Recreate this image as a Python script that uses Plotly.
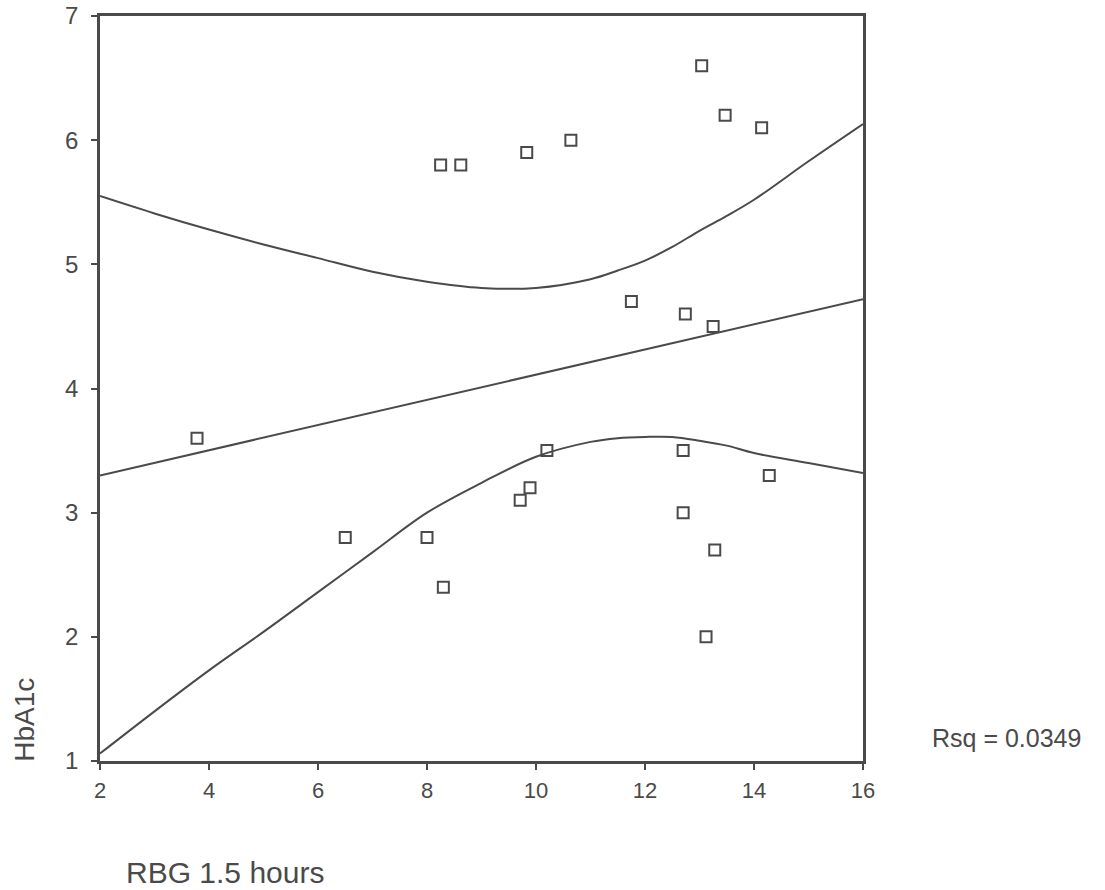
import plotly.graph_objects as go

# Scatter data (RBG 1.5 hours vs HbA1c)
rbg = [3.78, 6.5, 8.0, 8.3, 8.25, 8.62, 9.83, 10.64, 9.71, 9.89, 10.2,
       11.75, 12.74, 13.25, 12.70, 14.28, 12.70, 13.28, 13.12, 13.04, 13.47, 14.14]
hba1c = [3.6, 2.8, 2.8, 2.4, 5.8, 5.8, 5.9, 6.0, 3.1, 3.2, 3.5,
         4.7, 4.6, 4.5, 3.5, 3.3, 3.0, 2.7, 2.0, 6.6, 6.2, 6.1]

# Fit line
fit_x = [2, 16]
fit_y = [3.30, 4.72]

# Interval curves
band_x = [2, 3, 4, 5, 6, 7, 8, 9, 10, 11, 11.5, 12, 12.5, 13, 13.5, 14, 15, 16]
lower_y = [1.06, 1.40, 1.73, 2.04, 2.36, 2.68, 3.00, 3.24, 3.45, 3.57, 3.60, 3.61, 3.61, 3.58, 3.54, 3.48, 3.40, 3.32]
upper_y = [5.55, 5.41, 5.28, 5.16, 5.05, 4.94, 4.86, 4.81, 4.81, 4.88, 4.95, 5.03, 5.14, 5.27, 5.39, 5.52, 5.83, 6.13]

x_ticks = [2, 4, 6, 8, 10, 12, 14, 16]
y_ticks = [1, 2, 3, 4, 5, 6, 7]

ink = "#4a4a4a"
font = "Liberation Sans, Arial, sans-serif"

fig = go.Figure()
for yy in (upper_y, lower_y):
    fig.add_trace(go.Scatter(x=band_x, y=yy, mode="lines", line=dict(color=ink, width=2),
                             line_shape="spline", hoverinfo="skip"))
fig.add_trace(go.Scatter(x=fit_x, y=fit_y, mode="lines", line=dict(color=ink, width=2)))
fig.add_trace(go.Scatter(x=rbg, y=hba1c, mode="markers",
                         marker=dict(symbol="square-open", size=11, color=ink,
                                     line=dict(width=2, color=ink))))

axis_common = dict(showline=True, linecolor=ink, linewidth=2.5, mirror=True,
                   showgrid=False, zeroline=False, ticks="outside", ticklen=6,
                   tickwidth=2, tickcolor=ink, fixedrange=True, automargin=False)
fig.update_xaxes(range=[2, 16], tickvals=x_ticks, ticktext=[str(v) for v in x_ticks],
                 tickfont=dict(family=font, size=22, color=ink), ticklabelstandoff=2,
                 **axis_common)
fig.update_yaxes(range=[1, 7], tickvals=y_ticks, ticktext=[str(v) for v in y_ticks],
                 tickfont=dict(family=font, size=24, color=ink), ticklabelstandoff=8,
                 **axis_common)

fig.update_layout(
    width=1105, height=890,
    margin=dict(l=100, r=242, t=16, b=129),
    paper_bgcolor="white", plot_bgcolor="white",
    showlegend=False,
    annotations=[
        dict(text="HbA1c", xref="paper", yref="paper", x=-0.1, y=0.055,
             textangle=-90, showarrow=False, xanchor="center", yanchor="middle",
             font=dict(family=font, size=28, color=ink)),
        dict(text="RBG 1.5 hours", xref="paper", yref="paper", x=0.031, y=-0.149,
             showarrow=False, xanchor="left", yanchor="middle",
             font=dict(family=font, size=30, color=ink)),
        dict(text="Rsq = 0.0349", xref="paper", yref="paper", x=1.088, y=0.031,
             showarrow=False, xanchor="left", yanchor="middle",
             font=dict(family=font, size=25, color=ink)),
    ],
)

fig.write_html("out.html")
